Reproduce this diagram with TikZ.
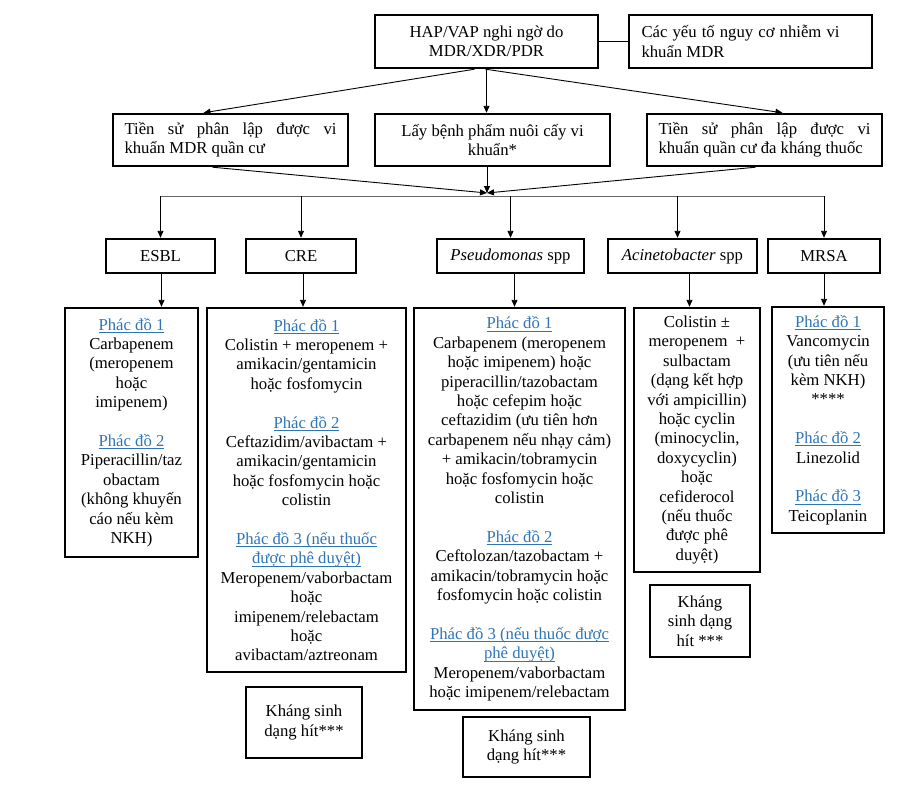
\documentclass[tikz,border=0pt]{standalone}
\usepackage{fontspec}
\setmainfont{Liberation Serif}
\usepackage{xcolor}
\usetikzlibrary{arrows.meta}

\definecolor{regblue}{RGB}{46,117,182}
\newsavebox{\regbox}
\newcommand{\regimen}[1]{\textcolor{regblue}{\sbox{\regbox}{#1}\rlap{\rule[-2.6pt]{\wd\regbox}{0.8pt}}\usebox{\regbox}}}
\newcommand{\spreadline}[2]{\makebox[#1][s]{\spaceskip=0pt\relax #2}}

\begin{document}
\begin{tikzpicture}[x=1pt,y=-1pt,
  every node/.style={font=\fontsize{16.7pt}{19.4pt}\selectfont},
  box/.style={draw,line width=2.4pt,inner sep=2pt,align=center},
  justbox/.style={box,align=left,text width=212pt,inner xsep=11.5pt,minimum height=52pt},
  kind/.style={box,minimum height=34pt},
  link/.style={line width=0.9pt},
  arr/.style={link,-{Triangle[length=7pt,width=6pt]}}]

\useasboundingbox (0,0) rectangle (910,787);

% top row
\node[box,minimum width=223pt,minimum height=53pt] (hap) at (486.5,41.5)
  {HAP/VAP nghi ngờ do\\MDR/XDR/PDR};
\node[box,align=left,text width=218pt,inner xsep=12.5pt,minimum height=53pt] (risk) at (750.5,41.5)
  {\spaceskip=0pt\relax\spreadline{198pt}{Các yếu tố nguy cơ nhiễm vi}\\khuẩn MDR};

% second row
\node[justbox] (hist1) at (230.5,140)
  {\spaceskip=0pt\relax\spreadline{212pt}{Tiền sử phân lập được vi}\\khuẩn MDR quần cư};
\node[box,minimum width=235pt,minimum height=52pt] (culture) at (492.5,140)
  {Lấy bệnh phẩm nuôi cấy vi\\khuẩn*};
\node[justbox] (hist2) at (764.5,140)
  {\spaceskip=0pt\relax\spreadline{212pt}{Tiền sử phân lập được vi}\\khuẩn quần cư đa kháng thuốc};

% bacteria
\node[kind,minimum width=109pt] (esbl) at (160.5,256) {ESBL};
\node[kind,minimum width=110pt] (cre) at (301,256) {CRE};
\node[kind,minimum width=147pt] (pseudo) at (510.5,256) {\textit{Pseudomonas} spp};
\node[kind,minimum width=149pt] (acine) at (682.5,256) {\textit{Acinetobacter} spp};
\node[kind,minimum width=112pt] (mrsa) at (824,256) {MRSA};

% regimens
\node[box,minimum width=133pt,minimum height=249pt] (esblR) at (131.5,432.5)
  {\regimen{Phác đồ 1}\\Carbapenem\\(meropenem\\hoặc\\imipenem)\\[19.4pt]
   \regimen{Phác đồ 2}\\Piperacillin/taz\\obactam\\(không khuyến\\cáo nếu kèm\\NKH)};
\node[box,minimum width=199pt,minimum height=364pt] (creR) at (306.5,490)
  {\regimen{Phác đồ 1}\\Colistin + meropenem +\\amikacin/gentamicin\\hoặc fosfomycin\\[19.4pt]
   \regimen{Phác đồ 2}\\Ceftazidim/avibactam +\\amikacin/gentamicin\\hoặc fosfomycin hoặc\\colistin\\[19.4pt]
   \regimen{Phác đồ 3 (nếu thuốc}\\\regimen{được phê duyệt)}\\Meropenem/vaborbactam\\hoặc\\imipenem/relebactam\\hoặc\\avibactam/aztreonam};
\node[box,minimum width=211pt,minimum height=402pt] (pseR) at (519.5,509)
  {\regimen{Phác đồ 1}\\Carbapenem (meropenem\\hoặc imipenem) hoặc\\piperacillin/tazobactam\\hoặc cefepim hoặc\\ceftazidim (ưu tiên hơn\\carbapenem nếu nhạy cảm)\\+ amikacin/tobramycin\\hoặc fosfomycin hoặc\\colistin\\[19.4pt]
   \regimen{Phác đồ 2}\\Ceftolozan/tazobactam +\\amikacin/tobramycin hoặc\\fosfomycin hoặc colistin\\[19.4pt]
   \regimen{Phác đồ 3 (nếu thuốc được}\\\regimen{phê duyệt)}\\Meropenem/vaborbactam\\hoặc imipenem/relebactam};
\node[box,minimum width=126pt,minimum height=264pt] (aciR) at (697,440)
  {Colistin ±\\meropenem\ \ +\\sulbactam\\(dạng kết hợp\\với ampicillin)\\hoặc cyclin\\(minocyclin,\\doxycyclin)\\hoặc\\cefiderocol\\(nếu thuốc\\được phê\\duyệt)};
\node[box,minimum width=112pt,minimum height=226pt] (mrsR) at (828,420)
  {\regimen{Phác đồ 1}\\Vancomycin\\(ưu tiên nếu\\kèm NKH)\\****\\[19.4pt]
   \regimen{Phác đồ 2}\\Linezolid\\[19.4pt]\regimen{Phác đồ 3}\\Teicoplanin};

% inhaled
\node[box,minimum width=116pt,minimum height=71pt] (creI) at (304,722.5) {Kháng sinh\\dạng hít***};
\node[box,minimum width=127pt,minimum height=60pt] (pseI) at (526.5,747) {Kháng sinh\\dạng hít***};
\node[box,minimum width=100pt,minimum height=72pt] (aciI) at (700,621) {Kháng\\sinh dạng\\hít ***};

% connectors
\draw[link] (hap.east) -- (risk.west);
\draw[arr] ([xshift=-12pt]hap.south) -- ([xshift=-27pt]hist1.north);
\draw[arr] (hap.south) -- (hap.south |- culture.north);
\draw[arr] ([xshift=-1pt]hap.south) -- ([xshift=18pt]hist2.north);

\coordinate (conv) at (487,193);
\draw[arr] ([xshift=-18pt]hist1.south) -- (conv);
\draw[arr] (culture.south -| conv) -- (conv);
\draw[arr] ([xshift=-9pt]hist2.south) -- (conv);

\coordinate (split) at (487,196);
\draw[link,black!60] (split -| esbl.north) -- (split -| mrsa.north);
\foreach \k in {esbl,cre,pseudo,mrsa}
  \draw[arr] (split -| \k.north) -- (\k.north);
\draw[arr] ([xshift=-5pt]acine.north |- split) -- ([xshift=-5pt]acine.north);

\foreach \a/\b/\s in {esbl/esblR/1pt,cre/creR/2pt,pseudo/pseR/4pt,acine/aciR/7pt,mrsa/mrsR/0pt}
  \draw[arr] ([xshift=\s]\a.south) -- ([xshift=\s]\a.south |- \b.north);

\end{tikzpicture}
\end{document}
